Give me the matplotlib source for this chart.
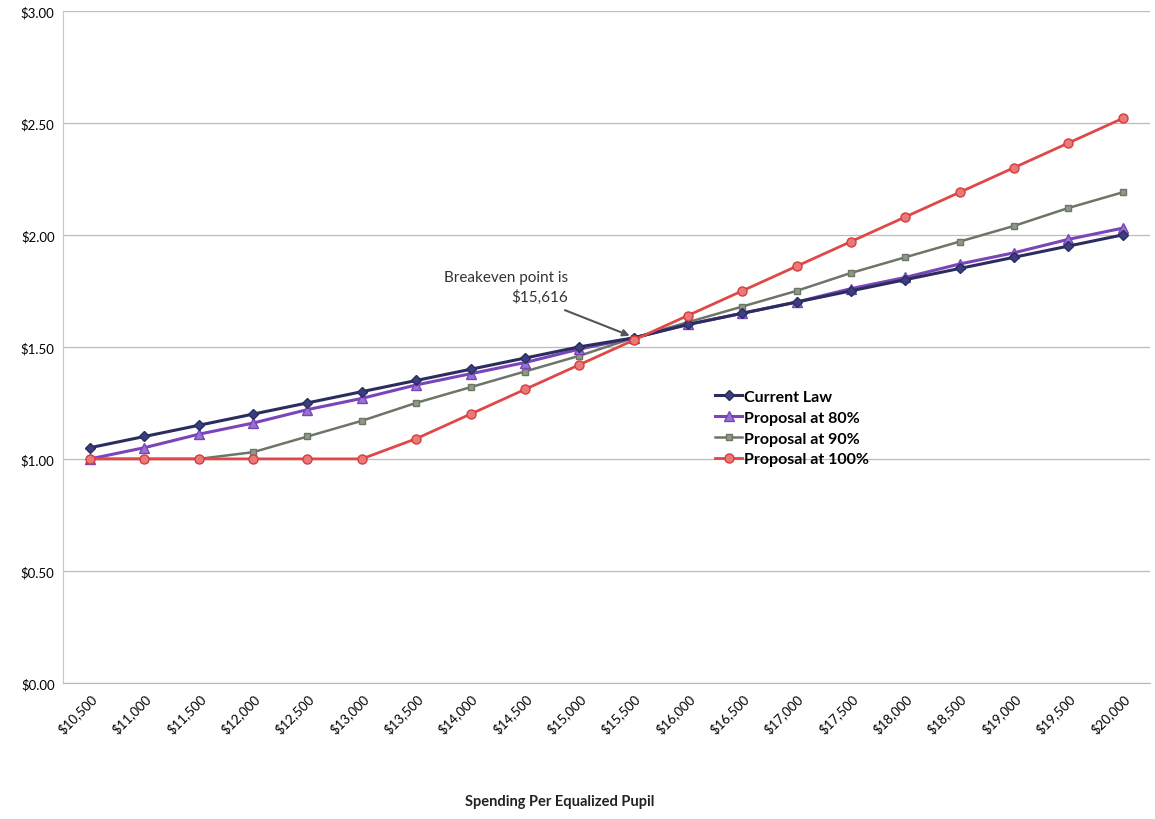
import matplotlib
matplotlib.use("Agg")
import matplotlib.pyplot as plt

plt.rcParams['font.family'] = ['Lato', 'DejaVu Sans']

categories = ["$10,500", "$11,000", "$11,500", "$12,000", "$12,500", "$13,000",
              "$13,500", "$14,000", "$14,500", "$15,000", "$15,500", "$16,000",
              "$16,500", "$17,000", "$17,500", "$18,000", "$18,500", "$19,000",
              "$19,500", "$20,000"]

current_law = [1.05, 1.10, 1.15, 1.20, 1.25, 1.30, 1.35, 1.40, 1.45, 1.50,
               1.54, 1.60, 1.65, 1.70, 1.75, 1.80, 1.85, 1.90, 1.95, 2.00]
proposal_80 = [1.00, 1.05, 1.11, 1.16, 1.22, 1.27, 1.33, 1.38, 1.43, 1.49,
               1.54, 1.60, 1.65, 1.70, 1.76, 1.81, 1.87, 1.92, 1.98, 2.03]
proposal_90 = [1.00, 1.00, 1.00, 1.03, 1.10, 1.17, 1.25, 1.32, 1.39, 1.46,
               1.54, 1.61, 1.68, 1.75, 1.83, 1.90, 1.97, 2.04, 2.12, 2.19]
proposal_100 = [1.00, 1.00, 1.00, 1.00, 1.00, 1.00, 1.09, 1.20, 1.31, 1.42,
                1.53, 1.64, 1.75, 1.86, 1.97, 2.08, 2.19, 2.30, 2.41, 2.52]

y_ticks = [0.0, 0.5, 1.0, 1.5, 2.0, 2.5, 3.0]

fig = plt.figure(figsize=(11.55, 8.2), dpi=100)
ax = fig.add_axes([0.0545, 0.166, 0.941, 0.8195])

x = list(range(len(categories)))
ax.plot(x, current_law, color='#2a2d5e', lw=2.2, marker='D', ms=5,
        mfc='#3a3f80', mec='#2a2d5e', label='Current Law', zorder=4)
ax.plot(x, proposal_80, color='#7a45b8', lw=2.2, marker='^', ms=6.5,
        mfc='#9a72d0', mec='#7a45b8', label='Proposal at 80%', zorder=3)
ax.plot(x, proposal_90, color='#6d7566', lw=1.8, marker='s', ms=5,
        mfc='#8e9a86', mec='#6d7566', label='Proposal at 90%', zorder=2)
ax.plot(x, proposal_100, color='#e04848', lw=2.0, marker='o', ms=6.5,
        mfc='#ea7a7a', mec='#d83c3c', label='Proposal at 100%', zorder=5)

ax.set_xlim(-0.5, len(categories) - 0.5)
ax.set_ylim(0, 3.0)
ax.set_yticks(y_ticks)
ax.set_yticklabels([f"${v:.2f}" for v in y_ticks], fontsize=9.5)
ax.set_xticks(x)
ax.set_xticklabels(categories, rotation=45, ha='right', rotation_mode='anchor',
                   fontsize=9.5)
ax.tick_params(axis='both', length=0, pad=6)
ax.grid(axis='y', color='#bcbcbc', lw=0.9)
ax.set_axisbelow(True)
for s in ['top', 'right']:
    ax.spines[s].set_visible(False)
ax.spines['left'].set_color('#c8c8c8')
ax.spines['bottom'].set_color('#b8b8b8')

ax.annotate("Breakeven point is\n$15,616", xy=(9.93, 1.55), xytext=(8.8, 1.69),
            ha='right', va='bottom', fontsize=11, color='#333333',
            linespacing=1.45,
            arrowprops=dict(arrowstyle='-|>', color='#555555', lw=1.5,
                            mutation_scale=10, shrinkA=6, shrinkB=0))

leg = ax.legend(loc='upper left', bbox_to_anchor=(0.594, 0.446), frameon=False,
                fontsize=11.5, handlelength=1.7, handletextpad=0.15,
                labelspacing=0.42, borderaxespad=0)
for t in leg.get_texts():
    t.set_fontweight('bold')

fig.text(0.485, 0.014, "Spending Per Equalized Pupil", ha='center', va='bottom',
         fontsize=10.5, fontweight='bold', color='#222222')

fig.savefig("out.png", dpi=100)
